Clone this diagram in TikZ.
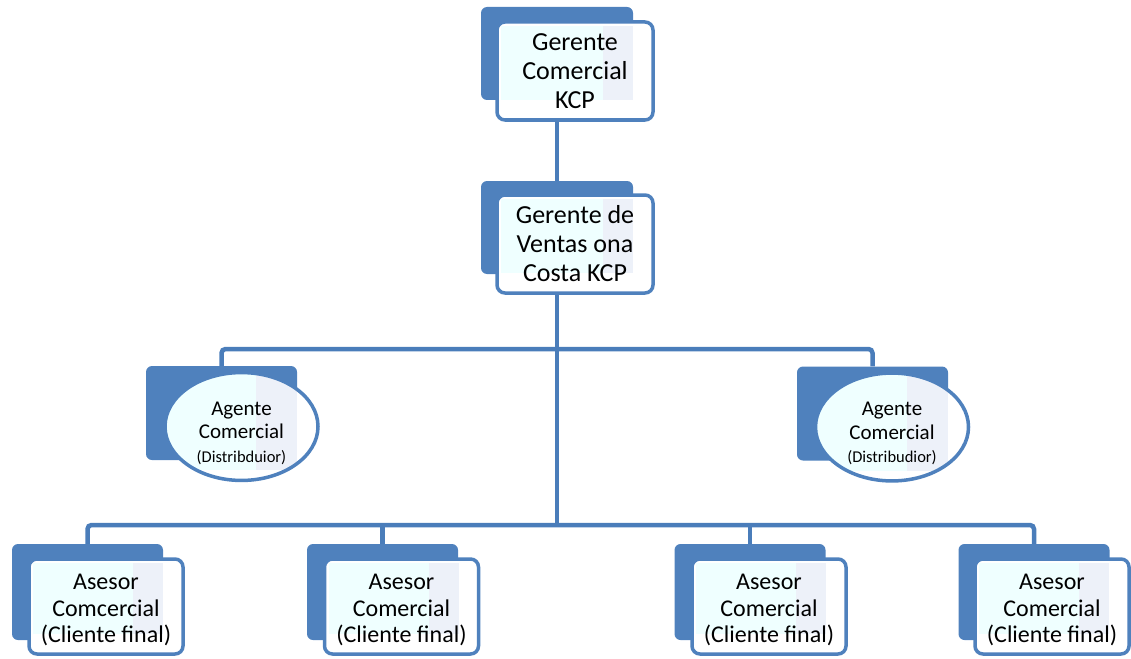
\documentclass[tikz,border=0pt]{standalone}
\usepackage{fontspec}
\setmainfont{Carlito}
\usepackage{xcolor}
\usepackage{tikz}
\usetikzlibrary{shapes.geometric,backgrounds}
\definecolor{kcpblue}{RGB}{79,129,189}
\definecolor{kcpline}{RGB}{74,125,186}
\definecolor{kcpcyan}{RGB}{239,255,255}
\definecolor{kcplav}{RGB}{237,241,249}
\newcommand{\kcpstrut}[1]{\rule{0pt}{#1}}

\begin{document}
\begin{tikzpicture}[x=1pt,y=-1pt,
  back/.style={fill=kcpblue, rounded corners=6pt, inner sep=0pt,
    minimum width=151pt, minimum height=94pt},
  front/.style={draw=kcpblue, line width=3.5pt, fill=white, rounded corners=8pt,
    align=center, inner sep=0pt, minimum width=156pt, minimum height=98pt,
    path picture={
      \fill[kcpcyan, sharp corners] ([shift={(4pt,-4pt)}]path picture bounding box.north west)
        rectangle ([shift={(-50pt,20pt)}]path picture bounding box.south east);
      \fill[kcplav, sharp corners] ([shift={(-50pt,-4pt)}]path picture bounding box.north east)
        rectangle ([shift={(-20pt,20pt)}]path picture bounding box.south east);
    }},
  agent/.style={ellipse, draw=kcpblue, line width=3.5pt, fill=white,
    align=center, inner sep=0pt, minimum width=153pt, minimum height=87pt,
    font=\fontsize{21}{23.5}\selectfont,
    path picture={
      \fill[kcpcyan] (path picture bounding box.north west)
        rectangle ([shift={(-62pt,10pt)}]path picture bounding box.south east);
      \fill[kcplav] ([shift={(-62pt,0pt)}]path picture bounding box.north east)
        rectangle ([shift={(-21pt,10pt)}]path picture bounding box.south east);
    }},
  big/.style={font=\fontsize{26}{29}\selectfont},
  small/.style={font=\fontsize{24}{26.5}\selectfont},
  link/.style={draw=kcpline, line width=4.5pt, rounded corners=4pt}
]
\useasboundingbox (0,0) rectangle (1131,658);

% top levels
\node[back, minimum width=152pt, minimum height=93pt] (gcback) at (557,53.5) {};
\node[front, big] (gc) at (575,71) {Gerente\\Comercial\\KCP};
\node[back, minimum width=152pt, minimum height=93pt] (gvback) at (557,227.5) {};
\node[front, big] (gv) at (575,244) {Gerente de\\Ventas ona\\Costa KCP};

% agents
\node[back] (agLback) at (221.5,413) {};
\node[agent] (agL) at (241.5,426.5) {\kcpstrut{27pt}Agente\\Comercial\\{\fontsize{16.5}{18}\selectfont(Distribduior)}};
\node[back] (agRback) at (872.5,413.5) {};
\node[agent] (agR) at (892,427) {\kcpstrut{27pt}Agente\\Comercial\\{\fontsize{16.5}{18}\selectfont(Distribudior)}};

% advisers
\node[back, minimum height=96pt] (as1back) at (87.5,592) {};
\node[front, small, minimum width=154pt, minimum height=95pt] (as1) at (106,606.5) {\kcpstrut{23pt}Asesor\\Comcercial\\(Cliente final)};
\node[back, minimum height=96pt] (as2back) at (382.5,592) {};
\node[front, small, minimum width=154pt, minimum height=95pt] (as2) at (401.5,606.5) {\kcpstrut{23pt}Asesor\\Comercial\\(Cliente final)};
\node[back, minimum height=96pt] (as3back) at (750,592) {};
\node[front, small, minimum width=154pt, minimum height=95pt] (as3) at (769,606.5) {\kcpstrut{23pt}Asesor\\Comercial\\(Cliente final)};
\node[back, minimum height=96pt] (as4back) at (1034,592) {};
\node[front, small, minimum width=154pt, minimum height=95pt] (as4) at (1052,606.5) {\kcpstrut{23pt}Asesor\\Comercial\\(Cliente final)};

\coordinate (bus1) at (557,349);
\coordinate (bus2) at (557,525);

\begin{scope}[on background layer]
\draw[link] (gcback.south) -- (gvback.north);
\draw[link] (gvback.south) -- (bus2);
\draw[link] (agLback.north) |- (bus1) -| (agRback.north);
\draw[link] (as1back.north) |- (bus2) -| (as4back.north);
\draw[link] (as2back.north) -- (as2back.north |- bus2);
\draw[link] (as3back.north) -- (as3back.north |- bus2);
\end{scope}
\end{tikzpicture}
\end{document}
